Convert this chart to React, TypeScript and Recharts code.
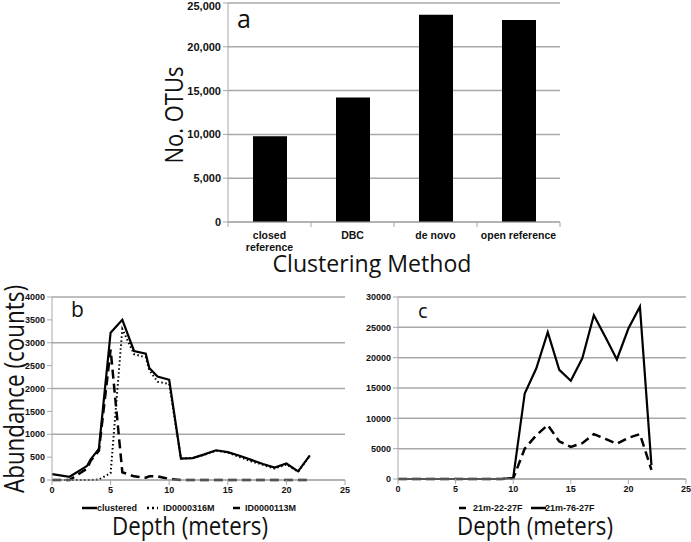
import React from "react";
import {
  BarChart,
  Bar,
  LineChart,
  Line,
  XAxis,
  YAxis,
  CartesianGrid,
} from "recharts";

// panel a: OTU counts per clustering method
const methods = ["closed reference", "DBC", "de novo", "open reference"];
const otuCounts = [9800, 14200, 23650, 23050];
const otuTicks = [0, 5000, 10000, 15000, 20000, 25000];

// panel b: abundance by depth
const depthsB = [0, 1.5, 3, 3.3, 4, 5, 6, 7, 8, 8.3, 9, 10, 11, 12, 13, 14, 15, 16, 17, 18, 19, 20, 21, 22];
const clustered = [130, 70, 310, 450, 680, 3220, 3500, 2820, 2760, 2450, 2260, 2190, 470, 480, 560, 650, 610, 530, 440, 350, 270, 360, 190, 540];
const id316 = [0, 0, 0, 0, 10, 150, 3300, 2750, 2680, 2400, 2150, 2100, 470, 480, 550, 640, 600, 500, 410, 330, 250, 340, 180, 530];
const id113 = [0, 0, 250, 420, 640, 2850, 170, 80, 50, 80, 80, 20, 0, 0, 0, 0, 0, 0, 0, 0, 0, 0, 0, 0];
const ticksB = [0, 500, 1000, 1500, 2000, 2500, 3000, 3500, 4000];

// panel c: abundance by depth
const depthsC = [0, 1, 2, 3, 4, 5, 6, 7, 8, 9, 10, 11, 12, 13, 14, 15, 16, 17, 18, 19, 20, 21, 22];
const strain22 = [0, 0, 0, 0, 0, 0, 0, 0, 0, 0, 100, 5000, 7200, 8900, 6200, 5300, 5900, 7400, 6600, 5800, 6800, 7400, 1500];
const strain76 = [0, 0, 0, 0, 0, 0, 0, 0, 0, 0, 200, 14100, 18200, 24200, 18000, 16200, 19900, 27000, 23400, 19700, 24800, 28400, 2300];
const ticksC = [0, 5000, 10000, 15000, 20000, 25000, 30000];
const depthTicks = [0, 5, 10, 15, 20, 25];

const barData = methods.map((m, i) => ({ method: m, otus: otuCounts[i] }));
const dataB = depthsB.map((d, i) => ({ depth: d, clustered: clustered[i], id316: id316[i], id113: id113[i] }));
const dataC = depthsC.map((d, i) => ({ depth: d, s22: strain22[i], s76: strain76[i] }));

const gray = "#a8a8a8";
const tickFont = "'Liberation Sans', Arial, sans-serif";
const titleFont = "'Open Sans', sans-serif";

const smallTick = { fill: "#111", fontSize: 9, fontWeight: 700, fontFamily: tickFont };

// excel puts the category ticks on the band edges, and wraps only the long label
function MethodTick(props: any) {
  const { x, y, payload, index, width, visibleTicksCount } = props;
  const band = width && visibleTicksCount ? width / visibleTicksCount : 83;
  const half = band / 2;
  const label = String(payload.value);
  const lines = label.length > 14 ? [label.slice(0, label.lastIndexOf(" ")), label.slice(label.lastIndexOf(" ") + 1)] : [label];
  return (
    <g>
      <line x1={x - half} y1={y} x2={x - half} y2={y + 5} stroke={gray} strokeWidth={1} />
      {index === visibleTicksCount - 1 && (
        <line x1={x + half} y1={y} x2={x + half} y2={y + 5} stroke={gray} strokeWidth={1} />
      )}
      <text
        x={x}
        y={y + 17}
        textAnchor="middle"
        fill="#111"
        style={{ fontSize: 10.5, fontWeight: 700, fontFamily: tickFont }}
      >
        {lines.map((l, i) => (
          <tspan key={i} x={x} dy={i === 0 ? 0 : 12}>
            {l}
          </tspan>
        ))}
      </text>
    </g>
  );
}

function LegendKey({ dash, w }: { dash?: string; w: number }) {
  return (
    <svg width={w} height={6} style={{ display: "block" }}>
      <line x1={0} y1={3} x2={w} y2={3} stroke="#000" strokeWidth={2.5} strokeDasharray={dash} />
    </svg>
  );
}

const legendText: React.CSSProperties = {
  position: "absolute",
  top: 502,
  fontSize: 9,
  fontWeight: 700,
  fontFamily: tickFont,
  lineHeight: "12px",
  color: "#111",
};

export default function App() {
  return (
    <div style={{ position: "absolute", left: 0, top: 0, width: 691, height: 542, background: "#fff", overflow: "hidden" }}>
      {/* a */}
      <div style={{ position: "absolute", left: 0, top: 0 }}>
        <BarChart width={600} height={270} data={barData} margin={{ top: 3, right: 40, bottom: 18, left: 168 }} barCategoryGap={0}>
          <CartesianGrid vertical={false} stroke={gray} strokeWidth={1.5} />
          <XAxis
            dataKey="method"
            height={30}
            stroke={gray}
            tickLine={false}
            tickSize={0}
            tickMargin={0}
            interval={0}
            tick={<MethodTick />}
          />
          <YAxis
            width={60}
            domain={[0, 25000]}
            ticks={otuTicks}
            stroke={gray}
            tickSize={5}
            tickFormatter={(v: number) => v.toLocaleString("en-US")}
            tick={{ fill: "#111", fontSize: 11, fontWeight: 700, fontFamily: tickFont }}
          />
          <Bar dataKey="otus" fill="#000" barSize={34} isAnimationActive={false} />
        </BarChart>
      </div>

      {/* b */}
      <div style={{ position: "absolute", left: 0, top: 270 }}>
        <LineChart width={360} height={272} data={dataB} margin={{ top: 27, right: 15, bottom: 42, left: 12 }}>
          <CartesianGrid vertical={false} stroke={gray} strokeWidth={1.5} />
          <XAxis
            dataKey="depth"
            type="number"
            domain={[0, 25]}
            ticks={depthTicks}
            height={20}
            stroke={gray}
            tickSize={5}
            tick={smallTick}
          />
          <YAxis width={40} domain={[0, 4000]} ticks={ticksB} stroke={gray} tickSize={5} tick={smallTick} />
          <Line type="linear" dataKey="id316" stroke="#000" strokeWidth={2} strokeDasharray="1.5 2.5" dot={false} isAnimationActive={false} />
          <Line type="linear" dataKey="id113" stroke="#000" strokeWidth={2.5} strokeDasharray="9 5" dot={false} isAnimationActive={false} />
          <Line type="linear" dataKey="clustered" stroke="#000" strokeWidth={2.2} dot={false} isAnimationActive={false} />
        </LineChart>
      </div>

      {/* c */}
      <div style={{ position: "absolute", left: 345, top: 270 }}>
        <LineChart width={346} height={272} data={dataC} margin={{ top: 27, right: 5, bottom: 43, left: 8 }}>
          <CartesianGrid vertical={false} stroke={gray} strokeWidth={1.5} />
          <XAxis
            dataKey="depth"
            type="number"
            domain={[0, 25]}
            ticks={depthTicks}
            height={20}
            stroke={gray}
            tickSize={5}
            tick={smallTick}
          />
          <YAxis width={45} domain={[0, 30000]} ticks={ticksC} stroke={gray} tickSize={5} tick={smallTick} />
          <Line type="linear" dataKey="s22" stroke="#000" strokeWidth={2.5} strokeDasharray="9 5" dot={false} isAnimationActive={false} />
          <Line type="linear" dataKey="s76" stroke="#000" strokeWidth={2.2} dot={false} isAnimationActive={false} />
        </LineChart>
      </div>

      {/* legends */}
      <div style={{ position: "absolute", left: 82, top: 505 }}><LegendKey w={15} /></div>
      <div style={{ ...legendText, left: 97 }}>clustered</div>
      <div style={{ position: "absolute", left: 147, top: 505 }}><LegendKey w={11} dash="2 3" /></div>
      <div style={{ ...legendText, left: 163 }}>ID0000316M</div>
      <div style={{ position: "absolute", left: 233, top: 505 }}><LegendKey w={7} /></div>
      <div style={{ ...legendText, left: 245 }}>ID0000113M</div>

      <div style={{ position: "absolute", left: 459, top: 505 }}><LegendKey w={7} /></div>
      <div style={{ ...legendText, left: 473 }}>21m-22-27F</div>
      <div style={{ position: "absolute", left: 531, top: 505 }}><LegendKey w={15} /></div>
      <div style={{ ...legendText, left: 545 }}>21m-76-27F</div>

      {/* titles and panel letters */}
      <svg width={691} height={542} style={{ position: "absolute", left: 0, top: 0, pointerEvents: "none" }}>
        <g fontFamily={titleFont} fill="#111">
          <text x={372} y={272} fontSize={24} textAnchor="middle" textLength={199} lengthAdjust="spacingAndGlyphs">Clustering Method</text>
          <text transform="translate(183,115) rotate(-90)" fontSize={26} textAnchor="middle" textLength={97} lengthAdjust="spacingAndGlyphs">No. OTUs</text>
          <text transform="translate(24,389) rotate(-90)" fontSize={27} textAnchor="middle" textLength={208} lengthAdjust="spacingAndGlyphs">Abundance (counts)</text>
          <text x={190} y={535} fontSize={26} textAnchor="middle" textLength={156} lengthAdjust="spacingAndGlyphs">Depth (meters)</text>
          <text x={535} y={535} fontSize={26} textAnchor="middle" textLength={156} lengthAdjust="spacingAndGlyphs">Depth (meters)</text>
          <text x={237} y={28} fontSize={25}>a</text>
          <text x={71} y={317} fontSize={21}>b</text>
          <text x={418} y={318} fontSize={20}>c</text>
        </g>
      </svg>
    </div>
  );
}
